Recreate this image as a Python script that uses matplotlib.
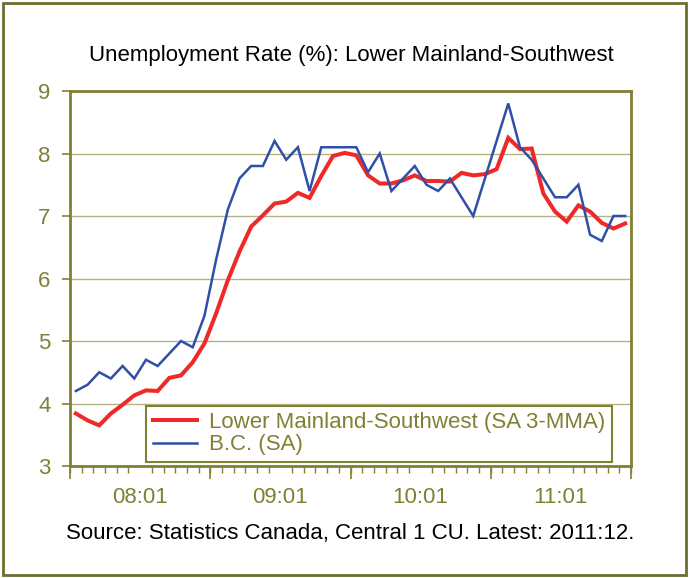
import matplotlib
matplotlib.use("Agg")
import matplotlib.pyplot as plt
from matplotlib.patches import Rectangle
import numpy as np

plt.rcParams['font.family'] = ['Liberation Sans', 'DejaVu Sans']

# Monthly data, 2008:01 .. 2011:12
lower_mainland = [3.84, 3.73, 3.65, 3.84, 3.98, 4.13, 4.21, 4.20, 4.41, 4.45, 4.66, 4.96,
                  5.44, 5.97, 6.43, 6.83, 7.01, 7.20, 7.23, 7.37, 7.29, 7.64, 7.96, 8.01,
                  7.97, 7.65, 7.52, 7.52, 7.57, 7.65, 7.56, 7.56, 7.55, 7.69, 7.65, 7.67,
                  7.75, 8.25, 8.07, 8.08, 7.36, 7.07, 6.91, 7.17, 7.07, 6.89, 6.80, 6.88]
bc = [4.2, 4.3, 4.5, 4.4, 4.6, 4.4, 4.7, 4.6, 4.8, 5.0, 4.9, 5.4,
      6.3, 7.1, 7.6, 7.8, 7.8, 8.2, 7.9, 8.1, 7.4, 8.1, 8.1, 8.1,
      8.1, 7.7, 8.0, 7.4, 7.6, 7.8, 7.5, 7.4, 7.6, 7.3, 7.0, 7.6,
      8.2, 8.8, 8.1, 7.9, 7.6, 7.3, 7.3, 7.5, 6.7, 6.6, 7.0, 7.0]
year_labels = ["08:01", "09:01", "10:01", "11:01"]
series_names = ["Lower Mainland-Southwest (SA 3-MMA)", "B.C. (SA)"]
title = "Unemployment Rate (%): Lower Mainland-Southwest"
source = "Source: Statistics Canada, Central 1 CU. Latest: 2011:12."

OLIVE = '#808033'
GRID = '#b4b482'
RED = '#f02828'
BLUE = '#2f4fa8'
FS = 16

W, H = 689, 578
fig = plt.figure(figsize=(W / 100, H / 100), dpi=100)
fig.patch.set_facecolor('white')
ax = fig.add_axes([70 / W, 1 - 466 / H, 561 / W, 375 / H])

x = np.arange(len(bc))
ax.plot(x, lower_mainland, color=RED, lw=2.9, label=series_names[0], solid_joinstyle='miter', zorder=3)
ax.plot(x, bc, color=BLUE, lw=1.8, label=series_names[1], solid_joinstyle='miter', zorder=4)

ax.set_xlim(-0.5, len(bc) - 0.5)
ax.set_ylim(3, 9)
ax.set_yticks(range(3, 10))
ax.grid(axis='y', color=GRID, lw=1.0)
ax.set_axisbelow(True)

for s in ax.spines.values():
    s.set_color(OLIVE)
    s.set_linewidth(2.0)

ax.tick_params(axis='y', which='major', length=6, width=1.2, color=OLIVE,
               labelcolor=OLIVE, labelsize=FS, pad=8)

# x: labels at year centers, short ticks at month boundaries, long ticks at year boundaries
centers = [5.5 + 12 * k for k in range(len(year_labels))]
ax.set_xticks(centers)
ax.set_xticklabels(year_labels)
ax.set_xticks(np.arange(-0.5, len(bc), 1.0), minor=True)
ax.tick_params(axis='x', which='major', length=0, labelcolor=OLIVE, labelsize=FS, pad=15)
ax.tick_params(axis='x', which='minor', length=5, width=1.0, color=OLIVE)
sec = ax.secondary_xaxis('bottom')
sec.set_xticks(np.arange(-0.5, len(bc), 12.0))
sec.set_xticklabels([])
sec.tick_params(axis='x', length=9, width=1.2, color=OLIVE)
sec.spines['bottom'].set_visible(False)

leg = ax.legend(loc='lower left', bbox_to_anchor=(0.1355, 0.0107), fontsize=FS,
                frameon=True, fancybox=False, edgecolor=OLIVE, framealpha=1,
                handlelength=2.0, handletextpad=0.55, borderpad=0.3, labelspacing=0.05,
                borderaxespad=0)
leg.get_frame().set_linewidth(1.5)
for t in leg.get_texts():
    t.set_color(OLIVE)

fig.text(351 / W, 1 - 55 / H, title, ha='center', va='center', fontsize=FS, color='black')
fig.text(350 / W, 1 - 534 / H, source, ha='center', va='center', fontsize=FS, color='black')

fig.patches.append(Rectangle((3 / W, 3 / H), (W - 6) / W, (H - 6) / H, transform=fig.transFigure,
                             fill=False, edgecolor='#6e6e30', lw=2.0))

fig.savefig('out.png', dpi=100)
